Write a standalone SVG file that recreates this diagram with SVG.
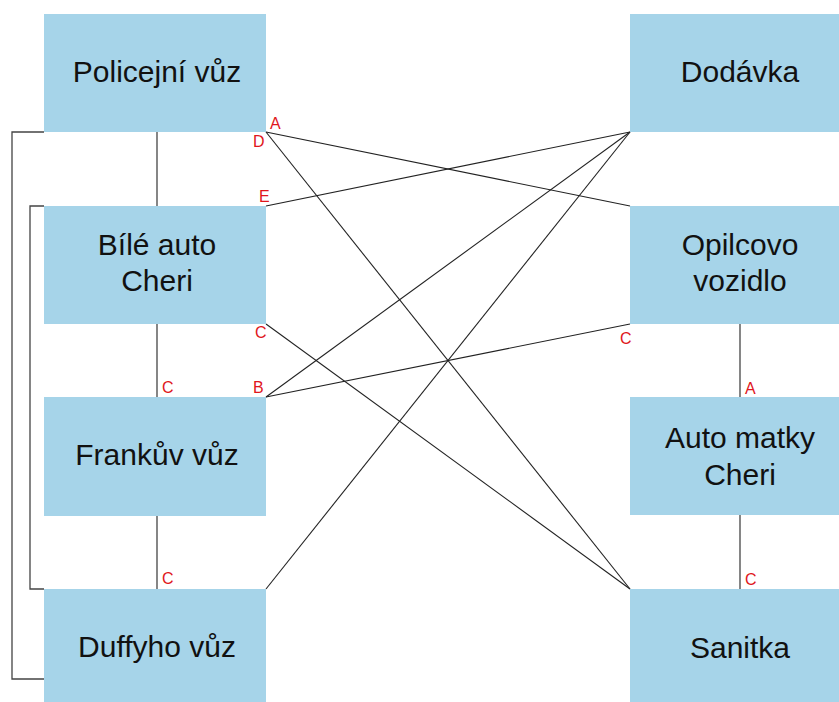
<svg xmlns="http://www.w3.org/2000/svg" width="839" height="702" viewBox="0 0 839 702">
<style>
.box{fill:#a6d4e9;}
.t{font-family:"Liberation Sans",Arial,sans-serif;font-size:30px;fill:#111;text-anchor:middle;}
.lb{font-family:"Liberation Sans",Arial,sans-serif;font-size:16px;fill:#e0161c;}
.ln{stroke:#222;stroke-width:1.1;fill:none;}
.br{stroke:#444;stroke-width:1.3;fill:none;}
</style>
<rect width="839" height="702" fill="#fff"/>
<g id="connectors">
<path class="br" d="M44,132 H12 V679 H44"/>
<path class="br" d="M44,206 H30 V589 H44"/>
<line class="ln" x1="157" y1="132" x2="157" y2="206"/>
<line class="ln" x1="157" y1="324" x2="157" y2="397"/>
<line class="ln" x1="157" y1="516" x2="157" y2="589"/>
<line class="ln" x1="740" y1="324" x2="740" y2="397"/>
<line class="ln" x1="740" y1="515" x2="740" y2="589"/>
<line class="ln" x1="266" y1="132" x2="630" y2="206"/>
<line class="ln" x1="266" y1="132" x2="630" y2="589"/>
<line class="ln" x1="266" y1="206" x2="630" y2="132"/>
<line class="ln" x1="266" y1="324" x2="630" y2="589"/>
<line class="ln" x1="266" y1="397" x2="630" y2="132"/>
<line class="ln" x1="266" y1="397" x2="630" y2="324"/>
<line class="ln" x1="266" y1="589" x2="630" y2="132"/>
<text class="lb" x="270" y="129">A</text>
<text class="lb" x="253" y="147">D</text>
<text class="lb" x="259" y="202">E</text>
<text class="lb" x="255" y="338">C</text>
<text class="lb" x="162" y="393">C</text>
<text class="lb" x="253" y="393">B</text>
<text class="lb" x="162" y="584">C</text>
<text class="lb" x="620" y="344">C</text>
<text class="lb" x="745" y="394">A</text>
<text class="lb" x="745" y="585">C</text>
</g>
<g id="policejni"><rect class="box" x="44" y="14" width="222" height="118"/><text class="t" x="157" y="82">Policejní vůz</text></g>
<g id="bile"><rect class="box" x="44" y="206" width="222" height="118"/><text class="t" x="157" y="255">Bílé auto</text><text class="t" x="157" y="291">Cheri</text></g>
<g id="frankuv"><rect class="box" x="44" y="397" width="222" height="119"/><text class="t" x="157" y="465">Frankův vůz</text></g>
<g id="duffyho"><rect class="box" x="44" y="589" width="222" height="119"/><text class="t" x="157" y="657">Duffyho vůz</text></g>
<g id="dodavka"><rect class="box" x="630" y="14" width="222" height="118"/><text class="t" x="740" y="82">Dodávka</text></g>
<g id="opilcovo"><rect class="box" x="630" y="206" width="222" height="118"/><text class="t" x="740" y="255">Opilcovo</text><text class="t" x="740" y="291">vozidlo</text></g>
<g id="automatky"><rect class="box" x="630" y="397" width="222" height="118"/><text class="t" x="740" y="448">Auto matky</text><text class="t" x="740" y="485">Cheri</text></g>
<g id="sanitka"><rect class="box" x="630" y="589" width="222" height="119"/><text class="t" x="740" y="658">Sanitka</text></g>
</svg>
